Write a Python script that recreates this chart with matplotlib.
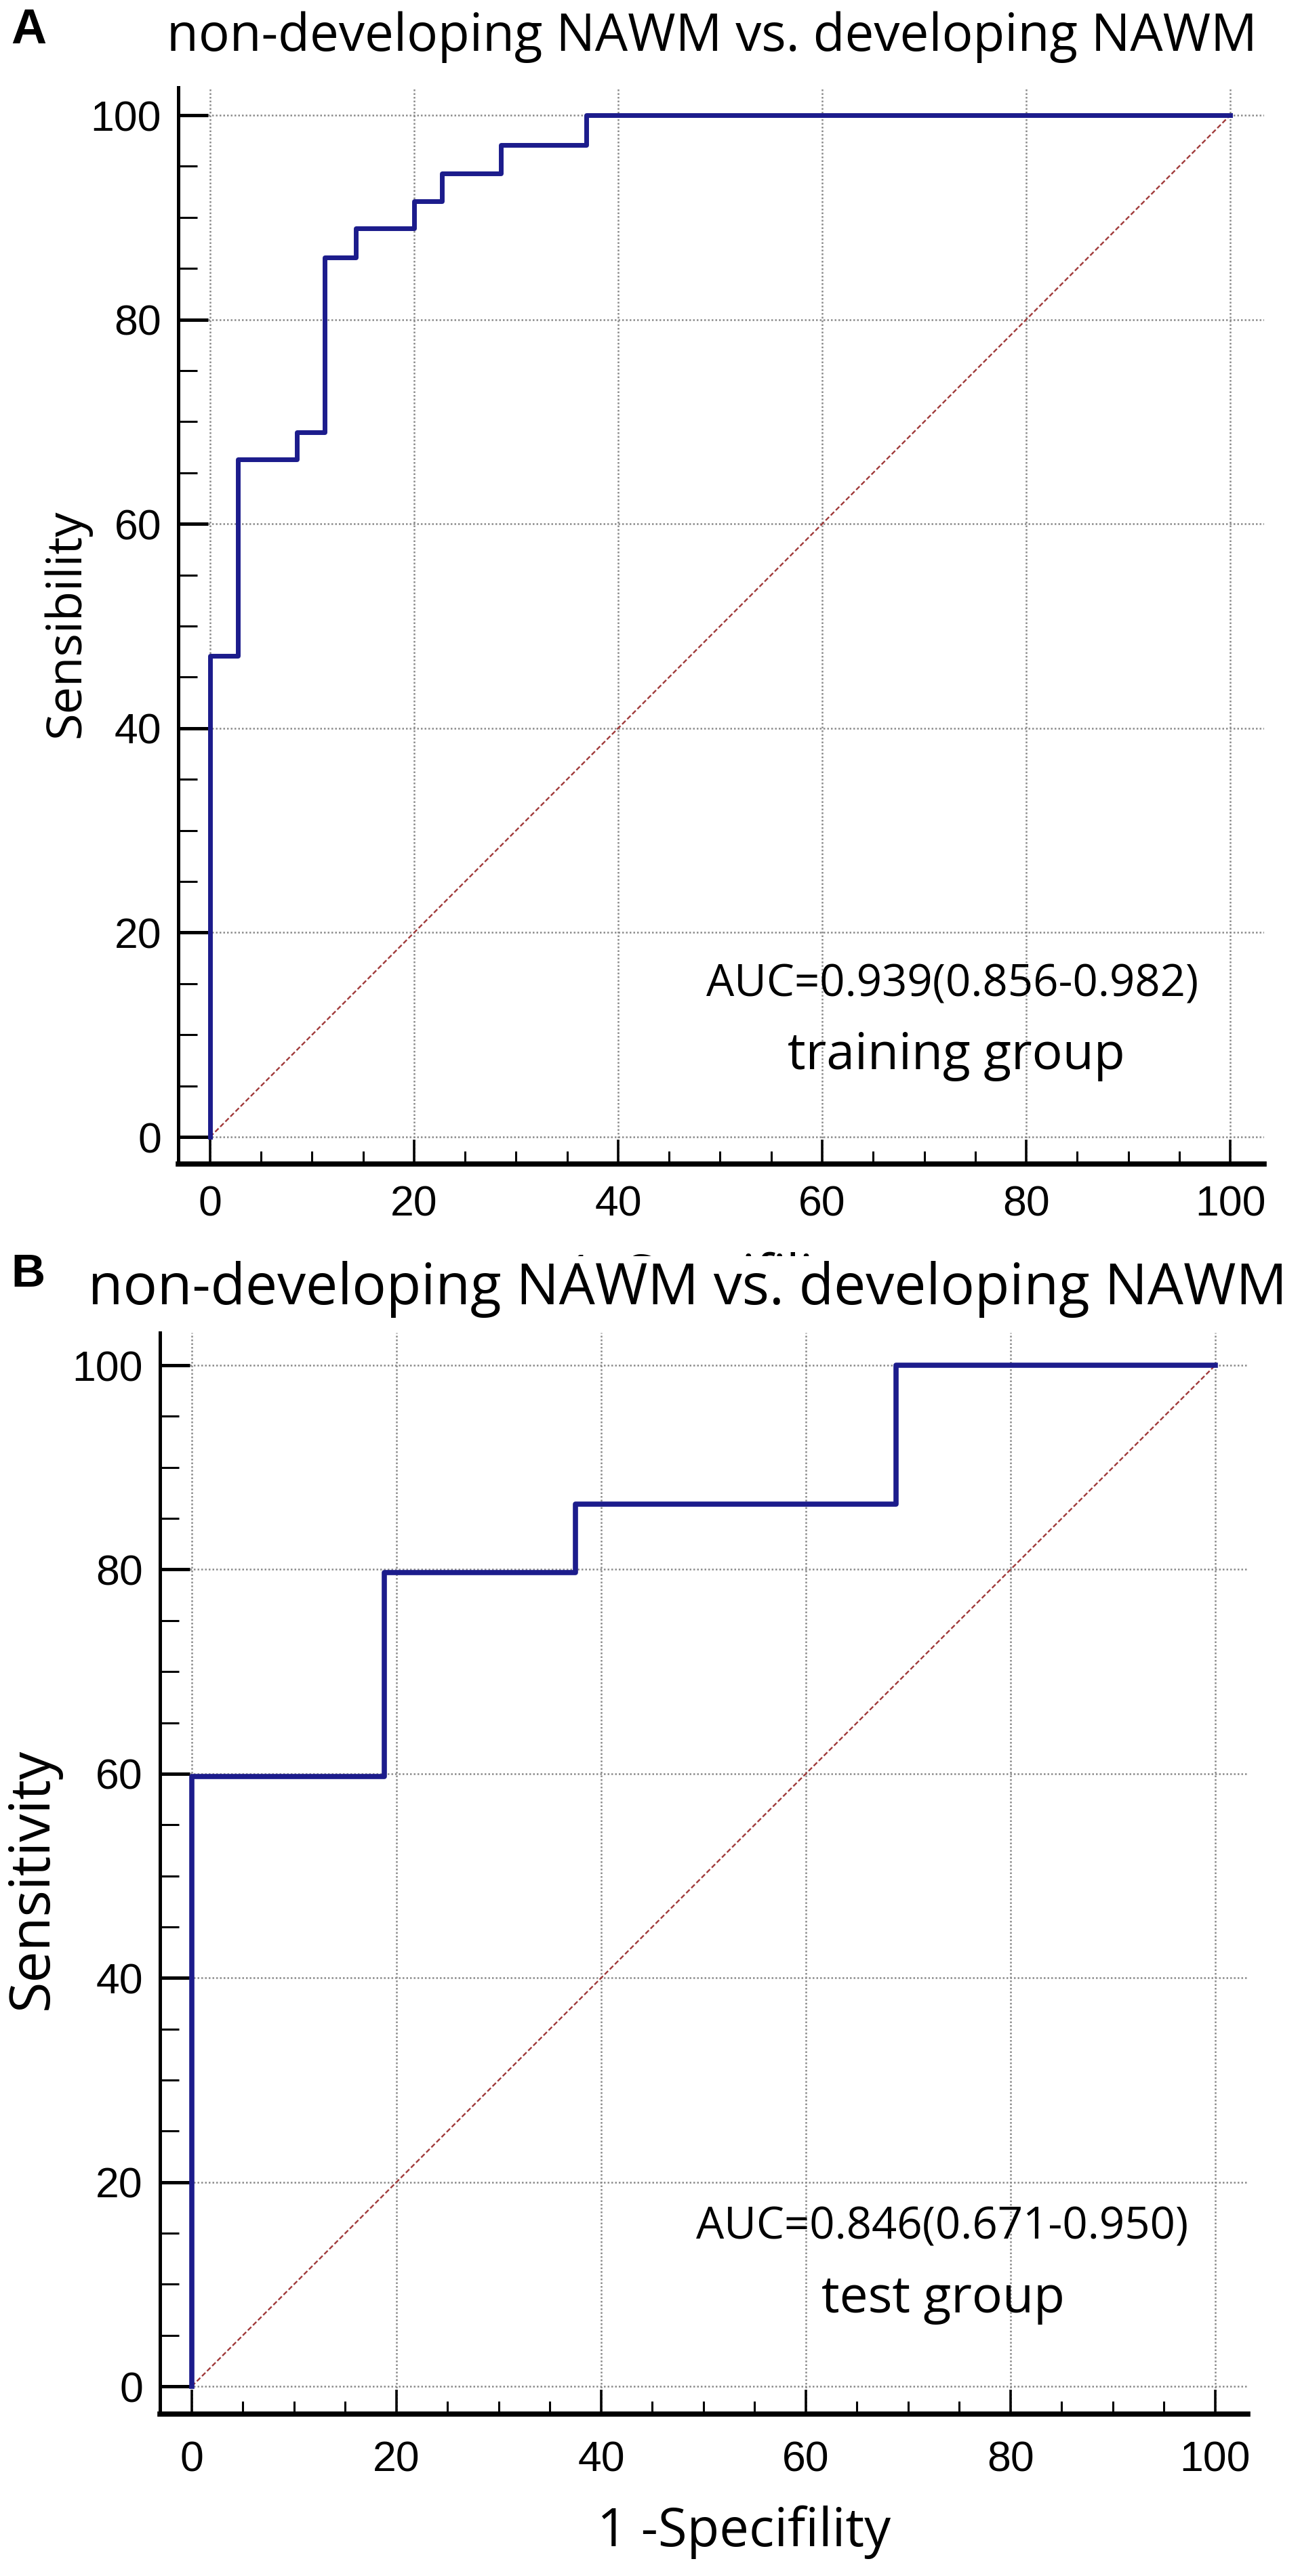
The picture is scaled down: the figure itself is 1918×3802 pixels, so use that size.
import matplotlib
matplotlib.use("Agg")
import matplotlib.pyplot as plt
from matplotlib.patches import Rectangle
from matplotlib.ticker import MultipleLocator

# ROC curves (1 - specificity, sensitivity in %)
train_fpr = [0, 0, 2.7, 8.5, 11.2, 14.3, 20.0, 22.7, 28.5, 36.9, 100]
train_tpr = [0, 47.1, 66.3, 69.0, 86.1, 88.9, 91.6, 94.3, 97.1, 100, 100]
test_fpr = [0, 0, 18.8, 37.5, 68.8, 100]
test_tpr = [0, 59.7, 79.7, 86.4, 100, 100]
ref_line = [0, 100]

title = "non-developing NAWM vs. developing NAWM"
auc_train = "AUC=0.939(0.856-0.982)"
auc_test = "AUC=0.846(0.671-0.950)"
group_names = ["training group", "test group"]
ylabels = ["Sensibility", "Sensitivity"]
xlabel = "1 -Specifility"
tick_vals = [0, 20, 40, 60, 80, 100]

W, H = 1918, 3802
fig = plt.figure(figsize=(W / 100, H / 100), dpi=100)

def fx(x):
    return x / W

def fy(y):
    return 1 - y / H

ROC_COL = "#1c1c8c"
DIAG_COL = "#a03a3a"
GRID_COL = "#8a8a8a"
TXT = "Open Sans"
NUM = "Liberation Sans"

def make_axes(box, xlim, ylim, xpad):
    l, r, b, t = box
    ax = fig.add_axes([fx(l), fy(b), fx(r) - fx(l), fy(t) - fy(b)])
    ax.set_xlim(*xlim)
    ax.set_ylim(*ylim)
    for s in ["top", "right"]:
        ax.spines[s].set_visible(False)
    ax.spines["left"].set_linewidth(3.6)
    ax.spines["bottom"].set_linewidth(5.5)
    ax.set_xticks(tick_vals)
    ax.set_yticks(tick_vals)
    ax.xaxis.set_minor_locator(MultipleLocator(5))
    ax.yaxis.set_minor_locator(MultipleLocator(5))
    ax.tick_params(axis="y", which="major", direction="in", length=32, width=3.6,
                   pad=18, labelsize=45)
    ax.tick_params(axis="y", which="minor", direction="in", length=20, width=2.2)
    ax.tick_params(axis="x", which="major", direction="in", length=26, width=2.6,
                   pad=xpad, labelsize=45)
    ax.tick_params(axis="x", which="minor", direction="in", length=14, width=2.2)
    for lab in ax.get_xticklabels() + ax.get_yticklabels():
        lab.set_fontfamily(NUM)
    ax.grid(True, which="major", linestyle=(0, (1, 1.2)), linewidth=1.8, color=GRID_COL)
    ax.set_axisbelow(True)
    return ax

# panel A
axA = make_axes((263, 1865, 1718, 129), (-3.12, 103.32), (-2.65, 102.72), 22)
axA.plot(ref_line, ref_line, color=DIAG_COL, linewidth=1.7, linestyle=(0, (3, 1.5)))
axA.plot(train_fpr, train_tpr, drawstyle="steps-post", color=ROC_COL, linewidth=5)

# panel B
axB = make_axes((236, 1841, 3563, 1967), (-3.11, 103.18), (-2.72, 103.19), 28)
axB.plot(ref_line, ref_line, color=DIAG_COL, linewidth=1.7, linestyle=(0, (3, 1.5)))
axB.plot(test_fpr, test_tpr, drawstyle="steps-post", color=ROC_COL, linewidth=5.5)

# panel letters and titles
fig.text(fx(16), fy(64), "A", fontsize=52, fontweight="bold", family=NUM,
         ha="left", va="baseline")
fig.text(fx(1050), fy(75), title, fontsize=55, family=TXT, ha="center", va="baseline")

# x label of panel A, mostly hidden under panel B's heading
fig.text(fx(1050), fy(1908), xlabel, fontsize=56, family=TXT, ha="center",
         va="baseline", zorder=3)
fig.patches.append(Rectangle((0, fy(1960)), 1, fy(1854) - fy(1960), transform=fig.transFigure,
                             facecolor="white", edgecolor="none", zorder=4))

fig.text(fx(16), fy(1899), "B", fontsize=50, fontweight="bold", family=NUM,
         ha="left", va="baseline", zorder=5)
fig.text(fx(1015), fy(1925), title, fontsize=60.5, family=TXT, ha="center",
         va="baseline", zorder=5)

# y labels
fig.text(fx(117), fy(920), ylabels[0], fontsize=52, family=TXT, rotation=90,
         rotation_mode="anchor", ha="center", va="baseline")
fig.text(fx(70), fy(2773), ylabels[1], fontsize=59.5, family=TXT, rotation=90,
         rotation_mode="anchor", ha="center", va="baseline")

# x label of panel B
fig.text(fx(1098), fy(3758), xlabel, fontsize=56, family=TXT, ha="center", va="baseline")

# AUC annotations
fig.text(fx(1405), fy(1470), auc_train, fontsize=47, family=TXT, ha="center", va="baseline")
fig.text(fx(1411), fy(1578), group_names[0], fontsize=54, family=TXT, ha="center", va="baseline")
fig.text(fx(1390), fy(3304), auc_test, fontsize=47, family=TXT, ha="center", va="baseline")
fig.text(fx(1392), fy(3413), group_names[1], fontsize=54, family=TXT, ha="center", va="baseline")

fig.savefig("out.png", dpi=100, facecolor="white")
